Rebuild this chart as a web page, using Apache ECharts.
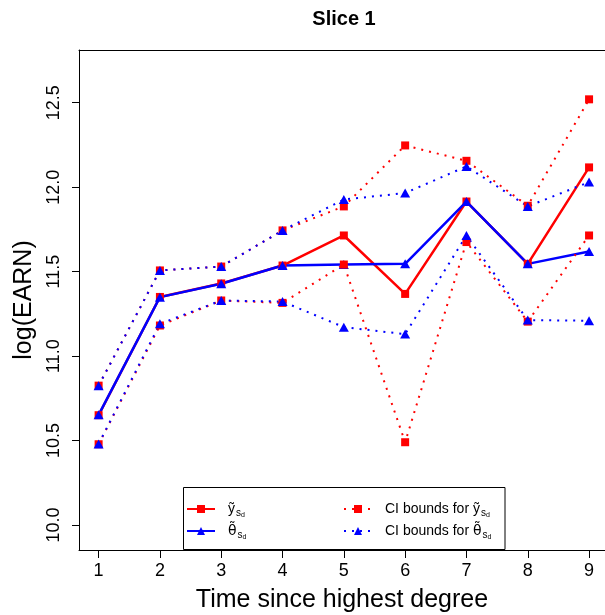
<!DOCTYPE html>
<html>
<head>
<meta charset="utf-8">
<script src="https://cdn.jsdelivr.net/npm/echarts@6/dist/echarts.min.js"></script>
<style>html,body{margin:0;padding:0;background:#fff}#c{width:605px;height:615px}</style>
</head>
<body>
<div id="c"></div>
<script>
const xVals = [1, 2, 3, 4, 5, 6, 7, 8, 9];
const yTildeMain = [10.65, 11.35, 11.43, 11.536, 11.714, 11.368, 11.915, 11.546, 12.117];
const thetaMain  = [10.652, 11.349, 11.428, 11.536, 11.542, 11.546, 11.915, 11.546, 11.619];
const yUpper     = [10.825, 11.507, 11.53, 11.744, 11.886, 12.247, 12.156, 11.89, 12.52];
const yLower     = [10.478, 11.181, 11.329, 11.315, 11.542, 10.49, 11.675, 11.204, 11.714];
const thetaUpper = [10.825, 11.507, 11.53, 11.744, 11.927, 11.965, 12.123, 11.886, 12.03];
const thetaLower = [10.48, 11.191, 11.329, 11.323, 11.171, 11.13, 11.714, 11.213, 11.209];
const xTicks = [1, 2, 3, 4, 5, 6, 7, 8, 9];
const yTicks = [10.0, 10.5, 11.0, 11.5, 12.0, 12.5];

const FONT = '"Liberation Sans", Arial, Helvetica, sans-serif';
const RED = '#ff0000', BLUE = '#0000ff';
const pts = arr => xVals.map((x, i) => [x, arr[i]]);

const richStyles = {
  p: { fontSize: 14, fontFamily: FONT, color: '#000', verticalAlign: 'bottom', lineHeight: 20, padding: [0, 0, 3, 8] },
  m: { fontSize: 14, fontFamily: FONT, color: '#000', verticalAlign: 'bottom', lineHeight: 20, padding: [0, 0, 3, 0] },
  t: { fontSize: 14, fontFamily: '"DejaVu Sans", sans-serif', color: '#000', verticalAlign: 'bottom', lineHeight: 20, padding: [0, 0, 3, 0] },
  s: { fontSize: 10, fontFamily: FONT, color: '#000', verticalAlign: 'bottom', lineHeight: 20, padding: [0, 0, 1, 1] },
  d: { fontSize: 7, fontFamily: FONT, color: '#000', verticalAlign: 'bottom', lineHeight: 20, padding: [0, 0, 0, 0] }
};
const labelMap = {
  ytilde: '{p|}{m|ỹ}{s|s}{d|d}',
  theta: '{p|}{t|θ̃}{s|s}{d|d}',
  ciy: '{p|}{m|CI bounds for ỹ}{s|s}{d|d}',
  citheta: '{p|}{m|CI bounds for }{t|θ̃}{s|s}{d|d}'
};

const sqr = 8;
const tri = [10, 9];
function mainSeries(name, data, color, symbol, size) {
  return { type: 'line', name, data, symbol, symbolSize: size, showSymbol: true,
    lineStyle: { color, width: 2.5, type: 'solid' }, itemStyle: { color }, animation: false, z: 2 };
}
function ciSeries(name, data, color, symbol, size) {
  return { type: 'line', name, data, symbol, symbolSize: size,
    lineStyle: { color, width: 2, type: [2, 6] }, itemStyle: { color }, animation: false, z: 2 };
}

const chart = echarts.init(document.getElementById('c'), null, { renderer: 'canvas' });
chart.setOption({
  backgroundColor: '#fff',
  animation: false,
  title: {
    text: 'Slice 1', left: 344, top: 9, padding: 0, textAlign: 'center',
    textStyle: { fontFamily: FONT, fontSize: 20, fontWeight: 'bold', color: '#000' }
  },
  grid: { left: 79, right: 0, top: 50, bottom: 65, show: false, containLabel: false, outerBoundsMode: 'none' },
  xAxis: [{
    type: 'value', min: 0.68, max: 9.26,
    name: 'Time since highest degree', nameLocation: 'middle', nameGap: 38,
    nameTextStyle: { fontFamily: FONT, fontSize: 25, color: '#000' },
    axisLine: { show: true, onZero: false, lineStyle: { color: '#000', width: 1 } },
    axisTick: { show: true, length: 8, customValues: xTicks, lineStyle: { color: '#000' } },
    axisLabel: { customValues: xTicks, margin: 12, fontFamily: FONT, fontSize: 18, color: '#000', formatter: v => String(v) },
    splitLine: { show: false }
  }, {
    type: 'value', position: 'top', min: 0.68, max: 9.26,
    axisLine: { show: true, onZero: false, lineStyle: { color: '#000', width: 1 } },
    axisTick: { show: false }, axisLabel: { show: false }, splitLine: { show: false }
  }],
  yAxis: {
    type: 'value', min: 9.852, max: 12.812,
    name: 'log(EARN)', nameLocation: 'middle', nameGap: 40, nameRotate: 90,
    nameTextStyle: { fontFamily: FONT, fontSize: 25, color: '#000' },
    axisLine: { show: true, onZero: false, lineStyle: { color: '#000', width: 1 } },
    axisTick: { show: true, length: 7, customValues: yTicks, lineStyle: { color: '#000' } },
    axisLabel: { customValues: yTicks, rotate: 90, margin: 16, fontFamily: FONT, fontSize: 18, color: '#000', formatter: v => v.toFixed(1) },
    splitLine: { show: false }
  },
  graphic: [{
    type: 'rect', z: 3, shape: { x: 183.5, y: 487.5, width: 321.5, height: 62 },
    style: { fill: '#fff', stroke: '#000', lineWidth: 1 }
  }],
  legend: [
    { data: ['ytilde', 'theta'], orient: 'vertical', left: 186, top: 502, padding: 0, itemGap: 5,
      itemWidth: 28, itemHeight: 10, z: 5,
      formatter: n => labelMap[n], textStyle: { rich: richStyles } },
    { data: ['ciy', 'citheta'], orient: 'vertical', left: 343, top: 502, padding: 0, itemGap: 5,
      itemWidth: 28, itemHeight: 10, z: 5,
      formatter: n => labelMap[n], textStyle: { rich: richStyles } }
  ],
  series: [
    mainSeries('ytilde', pts(yTildeMain), RED, 'rect', sqr),
    mainSeries('theta', pts(thetaMain), BLUE, 'triangle', tri),
    ciSeries('ciy', pts(yUpper), RED, 'rect', sqr),
    ciSeries('ciy', pts(yLower), RED, 'rect', sqr),
    ciSeries('citheta', pts(thetaUpper), BLUE, 'triangle', tri),
    ciSeries('citheta', pts(thetaLower), BLUE, 'triangle', tri)
  ]
});
</script>
</body>
</html>
